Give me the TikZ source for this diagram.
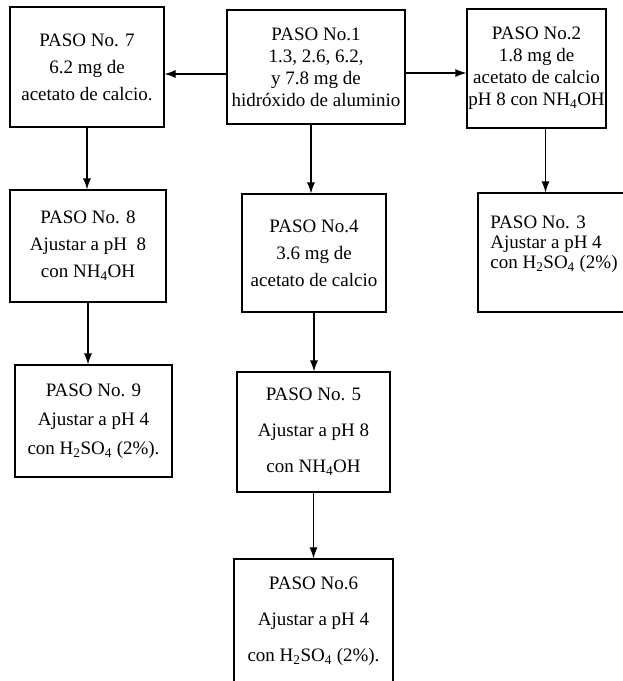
\documentclass[tikz,border=0pt]{standalone}
\usepackage{fontspec}
\setmainfont{Liberation Serif}
\usepackage{tikz}
\usetikzlibrary{arrows.meta}

\begin{document}
\begin{tikzpicture}[x=1pt,y=-1pt, line width=1.1pt, >={Latex[length=11pt,width=8pt]},
  paso/.style={draw, rectangle, align=center, inner sep=1pt},
  tight/.style={font=\fontsize{19}{22}\selectfont},
  loose/.style={font=\fontsize{19}{27}\selectfont},
  wide/.style={font=\fontsize{19}{36}\selectfont}]
\useasboundingbox (0,0) rectangle (623,681);

\node[paso, loose, minimum width=154pt, minimum height=120pt] (p7) at (87,67) {PASO No. 7\\6.2 mg de\\acetato de calcio.};
\node[paso, tight, minimum width=178pt, minimum height=114pt] (p1) at (316,67) {PASO No.1\\1.3, 2.6, 6.2,\\y 7.8 mg de\\hidróxido de aluminio};
\node[paso, tight, minimum width=139pt, minimum height=119pt] (p2) at (536.5,68.5) {PASO No.2\\1.8 mg de\\acetato de calcio\\pH 8 con NH\textsubscript{4}OH};
\node[paso, align=left, font=\fontsize{19}{20}\selectfont, minimum width=152pt, minimum height=119pt] (p3) at (554,252.5) {PASO No. 3\\Ajustar a pH 4\\con H\textsubscript{2}SO\textsubscript{4} (2\%)\\ \mbox{}};
\node[paso, loose, minimum width=156pt, minimum height=112pt] (p8) at (88,246) {PASO No. 8\\Ajustar a pH~~8\\con NH\textsubscript{4}OH};
\node[paso, font=\fontsize{19}{29}\selectfont, minimum width=157pt, minimum height=112pt] (p9) at (93.5,421) {PASO No. 9\\Ajustar a pH 4\\con H\textsubscript{2}SO\textsubscript{4} (2\%).};
\node[paso, loose, minimum width=144pt, minimum height=118pt] (p4) at (314,253) {PASO No.4\\3.6 mg de\\acetato de calcio};
\node[paso, wide, minimum width=153pt, minimum height=120pt] (p5) at (313.5,432) {PASO No. 5\\Ajustar a pH 8\\con NH\textsubscript{4}OH};
\node[paso, wide, minimum width=159pt, minimum height=141pt, text depth=20pt] (p6) at (313.5,629.5) {PASO No.6\\Ajustar a pH 4\\con H\textsubscript{2}SO\textsubscript{4} (2\%).};

\draw[->] ([yshift=-7pt]p1.west) -- ([yshift=-7pt]p1.west -| p7.east);
\draw[->] ([yshift=-6pt]p1.east) -- ([yshift=-6pt]p1.east -| p2.west);
\draw[->] (p7.south) -- (p7.south |- p8.north);
\draw[->] (p8.south) -- (p8.south |- p9.north);
\draw[->] ([xshift=-3pt]p4.north |- p1.south) -- ([xshift=-3pt]p4.north);
\draw[->] (p4.south) -- (p4.south |- p5.north);
\draw[->] (p5.south) -- (p5.south |- p6.north);
\draw[->] ([xshift=9pt]p2.south) -- ([xshift=9pt]p2.south |- p3.north);
\end{tikzpicture}
\end{document}
